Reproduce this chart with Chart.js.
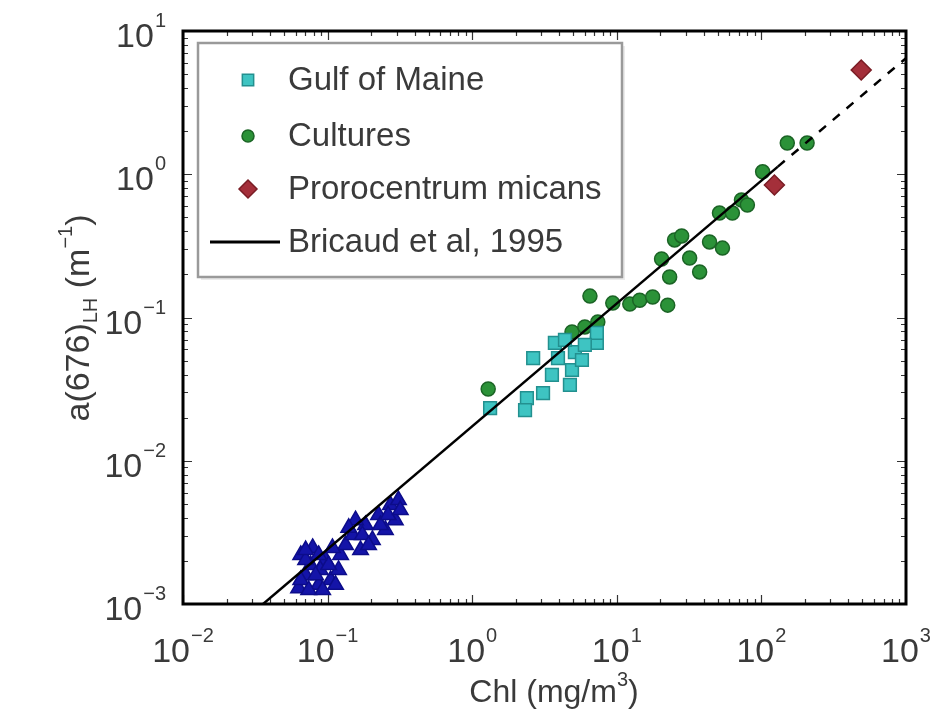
<!DOCTYPE html>
<html>
<head>
<meta charset="utf-8">
<script src="https://cdn.jsdelivr.net/npm/chart.js@4/dist/chart.umd.min.js"></script>
<style>
  html, body { margin: 0; padding: 0; background: #ffffff; }
  canvas { display: block; }
</style>
</head>
<body>
<canvas id="chart" width="951" height="718"></canvas>
<script>
// Low-chlorophyll stations (blue triangles, no legend entry)
const lowChl = [0.0652, 0.0705, 0.0763, 0.0867, 0.0968, 0.105, 0.119, 0.063, 0.0788, 0.123,
                0.133, 0.149, 0.169, 0.183, 0.204, 0.225, 0.251, 0.272, 0.294, 0.309,
                0.156, 0.140, 0.089, 0.0705, 0.0652, 0.0740, 0.0826, 0.0924, 0.1016, 0.1135,
                0.0867, 0.0705, 0.108, 0.174, 0.232, 0.262, 0.318, 0.192];
const lowAbs = [0.00220, 0.00159, 0.00187, 0.00136, 0.00203, 0.00147, 0.00173, 0.00129, 0.00246, 0.00220,
                0.00258, 0.00303, 0.00238, 0.00356, 0.00280, 0.00418, 0.00329, 0.00491, 0.00385, 0.00532,
                0.00385, 0.00340, 0.00173, 0.00203, 0.00147, 0.00125, 0.00159, 0.00125, 0.00187, 0.00136,
                0.00220, 0.00238, 0.00246, 0.00303, 0.00356, 0.00418, 0.00453, 0.00258];

// Gulf of Maine
const gomChl = [2.64, 3.73, 5.13, 7.28, 7.28, 4.90, 4.74, 3.56, 3.09, 2.39, 2.32, 4.38, 5.74, 3.92, 1.33, 6.01];
const gomAbs = [0.0521, 0.0664, 0.0574, 0.0664, 0.0780, 0.0430, 0.0338, 0.0397, 0.0297, 0.0274, 0.0226, 0.0697, 0.0505, 0.0521, 0.0233, 0.0643];

// Cultures
const culChl = [1.29, 6.52, 9.38, 12.3, 14.4, 17.7, 22.5, 20.4, 23.2, 25.1, 28.1, 31.9, 37.4,
                43.8, 53.8, 51.3, 72.8, 80.0, 102, 151, 207, 4.90, 6.01, 7.39, 63];
const culAbs = [0.0317, 0.141, 0.126, 0.124, 0.132, 0.139, 0.122, 0.256, 0.192, 0.348, 0.371, 0.260, 0.208,
                0.337, 0.305, 0.536, 0.661, 0.610, 1.04, 1.65, 1.65, 0.0793, 0.0859, 0.0931, 0.536];

// Prorocentrum micans
const proChl = [490, 123];
const proAbs = [5.34, 0.841];

// Bricaud et al. relationship: solid over its data range, dashed beyond
const fitChl = [0.03, 130];
const fitAbs = [0.00086, 1.13];
const extChl = [130, 1000];
const extAbs = [1.13, 6.47];

// Decade exponents for the tick labels
const xExps = [-2, -1, 0, 1, 2, 3];
const yExps = [-3, -2, -1, 0, 1];

const pairs = (xs, ys) => xs.map((x, i) => ({ x: x, y: ys[i] }));

const FONT = '"Liberation Sans", Arial, Helvetica, sans-serif';
const TEXT = '#3a3a3a';

// "10" with a raised exponent, anchored by the whole label
function powerLabel(ctx, exp, x, y, align) {
  const base = '10';
  const sup = exp < 0 ? '\u2212' + Math.abs(exp) : String(exp);
  ctx.font = '34px ' + FONT;
  const wb = ctx.measureText(base).width;
  ctx.font = '20px ' + FONT;
  const ws = ctx.measureText(sup).width;
  const total = wb + ws + 1;
  let left = align === 'right' ? x - total : x - total / 2;
  ctx.fillStyle = TEXT;
  ctx.textAlign = 'left';
  ctx.textBaseline = 'alphabetic';
  ctx.font = '34px ' + FONT;
  ctx.fillText(base, left, y);
  ctx.font = '20px ' + FONT;
  ctx.fillText(sup, left + wb + 1, y - 20);
}

// Writes a run of text pieces (normal / sub / superscript) centred on (0,0)
function richText(ctx, parts) {
  let tw = 0;
  parts.forEach(p => { ctx.font = p.size + 'px ' + FONT; p.w = ctx.measureText(p.t).width; tw += p.w; });
  let cx = -tw / 2;
  parts.forEach(p => {
    ctx.font = p.size + 'px ' + FONT;
    ctx.fillText(p.t, cx, p.dy);
    cx += p.w;
  });
}

const framePlugin = {
  id: 'frame',
  afterDatasetsDraw(chart) {
    const ctx = chart.ctx;
    const a = chart.chartArea;
    const xs = chart.scales.x, ys = chart.scales.y;
    ctx.save();
    // minor and major inner ticks
    ctx.strokeStyle = '#333';
    ctx.lineWidth = 1.2;
    ctx.beginPath();
    for (let e = -2; e < 3; e++) {
      for (let m = 1; m <= 9; m++) {
        const px = Math.round(xs.getPixelForValue(m * Math.pow(10, e))) + 0.5;
        const len = m === 1 ? 9 : 5;
        ctx.moveTo(px, a.bottom); ctx.lineTo(px, a.bottom - len);
        ctx.moveTo(px, a.top); ctx.lineTo(px, a.top + len);
      }
    }
    for (let e = -3; e < 1; e++) {
      for (let m = 1; m <= 9; m++) {
        const py = Math.round(ys.getPixelForValue(m * Math.pow(10, e))) + 0.5;
        const len = m === 1 ? 9 : 5;
        ctx.moveTo(a.left, py); ctx.lineTo(a.left + len, py);
        ctx.moveTo(a.right, py); ctx.lineTo(a.right - len, py);
      }
    }
    ctx.stroke();
    // axes box
    ctx.strokeStyle = '#000';
    ctx.lineWidth = 3;
    ctx.strokeRect(a.left, a.top, a.right - a.left, a.bottom - a.top);

    // tick labels
    xExps.forEach(e => {
      powerLabel(ctx, e, xs.getPixelForValue(Math.pow(10, e)), 662, 'center');
    });
    yExps.forEach(e => {
      powerLabel(ctx, e, 166, ys.getPixelForValue(Math.pow(10, e)) + 16, 'right');
    });

    // x title: Chl (mg/m^3)
    ctx.fillStyle = TEXT;
    ctx.textBaseline = 'alphabetic';
    ctx.textAlign = 'left';
    ctx.save();
    ctx.translate(554, 702);
    richText(ctx, [
      { t: 'Chl (mg/m', size: 32, dy: 0 },
      { t: '3', size: 20, dy: -16 },
      { t: ')', size: 32, dy: 0 }
    ]);
    ctx.restore();

    // y title: a(676)_LH (m^-1), rotated
    ctx.save();
    ctx.translate(89, 318);
    ctx.rotate(-Math.PI / 2);
    richText(ctx, [
      { t: 'a(676)', size: 34, dy: 0 },
      { t: 'LH', size: 20, dy: 8 },
      { t: ' (m', size: 34, dy: 0 },
      { t: '\u22121', size: 20, dy: -17 },
      { t: ')', size: 34, dy: 0 }
    ]);
    ctx.restore();

    // legend box
    const L = { x: 198, y: 43, w: 424, h: 234 };
    ctx.fillStyle = 'rgba(0,0,0,0.08)';
    ctx.fillRect(L.x + 3, L.y + 3, L.w, L.h);
    ctx.fillStyle = '#ffffff';
    ctx.fillRect(L.x, L.y, L.w, L.h);
    ctx.strokeStyle = '#9a9a9a';
    ctx.lineWidth = 2.5;
    ctx.strokeRect(L.x, L.y, L.w, L.h);

    const entries = [
      { ds: 2, y: 80, label: 'Gulf of Maine' },
      { ds: 3, y: 136, label: 'Cultures' },
      { ds: 4, y: 189, label: 'Prorocentrum micans' },
      { ds: 0, y: 242, label: 'Bricaud et al, 1995' }
    ];
    entries.forEach(en => {
      const d = chart.data.datasets[en.ds];
      if (en.ds === 0) {
        ctx.strokeStyle = '#000';
        ctx.lineWidth = 3;
        ctx.setLineDash([]);
        ctx.beginPath();
        ctx.moveTo(210, en.y);
        ctx.lineTo(280, en.y);
        ctx.stroke();
      } else {
        ctx.fillStyle = d.backgroundColor;
        ctx.strokeStyle = d.borderColor;
        ctx.lineWidth = d.borderWidth;
        Chart.helpers.drawPoint(ctx, {
          pointStyle: d.pointStyle,
          radius: d.pointRadius - 1,
          borderWidth: d.borderWidth
        }, 248, en.y);
      }
      ctx.fillStyle = TEXT;
      ctx.font = '33px ' + FONT;
      ctx.textAlign = 'left';
      ctx.textBaseline = 'middle';
      ctx.fillText(en.label, 288, en.y + 1);
    });
    ctx.restore();
  }
};

new Chart(document.getElementById('chart'), {
  type: 'scatter',
  data: {
    datasets: [
      {
        type: 'line', label: 'Bricaud et al, 1995', data: pairs(fitChl, fitAbs),
        borderColor: '#000', borderWidth: 2.5, pointRadius: 0, fill: false
      },
      {
        type: 'line', label: 'extrapolation', data: pairs(extChl, extAbs),
        borderColor: '#000', borderWidth: 2.5, borderDash: [9, 9], pointRadius: 0, fill: false
      },
      {
        label: 'Gulf of Maine', data: pairs(gomChl, gomAbs),
        pointStyle: 'rect', pointRadius: 9, borderWidth: 1.5,
        backgroundColor: '#3ec4c2', borderColor: '#23908f'
      },
      {
        label: 'Cultures', data: pairs(culChl, culAbs),
        pointStyle: 'circle', pointRadius: 7, borderWidth: 1.5,
        backgroundColor: '#2b9238', borderColor: '#1b6425'
      },
      {
        label: 'Prorocentrum micans', data: pairs(proChl, proAbs),
        pointStyle: 'rectRot', pointRadius: 10, borderWidth: 1.5,
        backgroundColor: '#a42f3a', borderColor: '#7a1d25'
      },
      {
        label: 'Low Chl', data: pairs(lowChl, lowAbs),
        pointStyle: 'triangle', pointRadius: 9, borderWidth: 1.5,
        backgroundColor: '#1414a8', borderColor: '#0c0c8a'
      }
    ]
  },
  options: {
    responsive: false,
    devicePixelRatio: 1,
    animation: false,
    layout: { padding: { left: 183, right: 45, top: 31, bottom: 114 } },
    plugins: { legend: { display: false }, tooltip: { enabled: false } },
    scales: {
      x: { type: 'logarithmic', min: 0.01, max: 1000, display: false },
      y: { type: 'logarithmic', min: 0.001, max: 10, display: false }
    }
  },
  plugins: [framePlugin]
});
</script>
</body>
</html>
